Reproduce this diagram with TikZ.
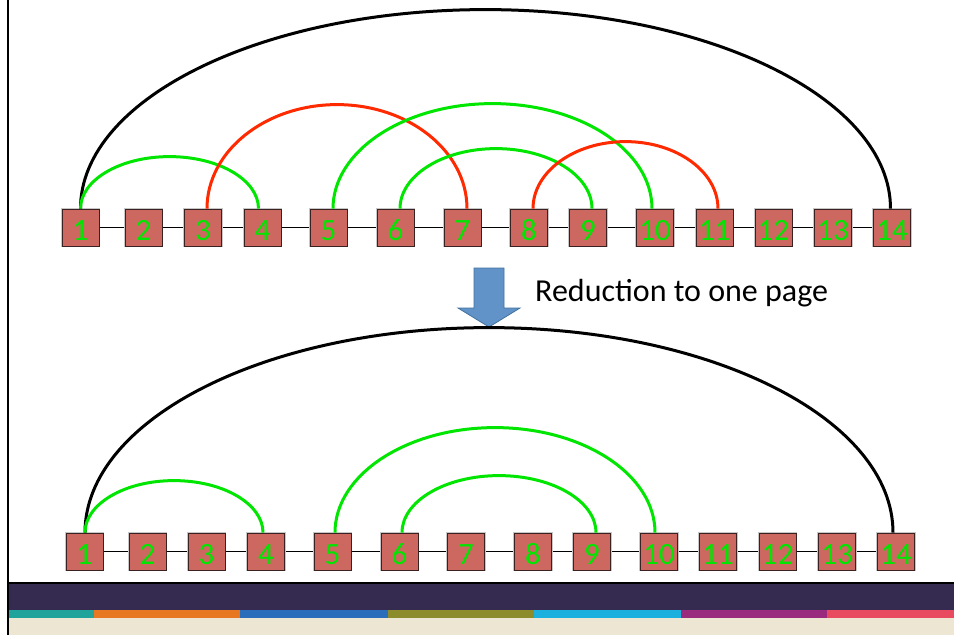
\documentclass[tikz,border=0pt]{standalone}
\usepackage{fontspec}
\setmainfont{Carlito}
\definecolor{boxfill}{HTML}{CD6861}
\definecolor{boxline}{HTML}{3A2222}
\definecolor{arcgreen}{HTML}{00E600}
\definecolor{arcred}{HTML}{FF2A00}
\definecolor{arrowblue}{HTML}{6193C8}
\definecolor{arrowline}{HTML}{41719C}
\definecolor{banddark}{HTML}{352A50}
\definecolor{cream}{HTML}{EDE6D2}
\definecolor{sTeal}{HTML}{1FA39A}
\definecolor{sOrange}{HTML}{E87722}
\definecolor{sBlue}{HTML}{2A6EBB}
\definecolor{sOlive}{HTML}{8C8C2A}
\definecolor{sCyan}{HTML}{1BB0DE}
\definecolor{sPurple}{HTML}{9A2A7E}
\definecolor{sPink}{HTML}{E84A5F}
\begin{document}
\begin{tikzpicture}[x=1pt,y=-1pt,
  vbox/.style={draw=boxline, line width=0.8pt, fill=boxfill,
    preaction={draw=black!22, line width=2.6pt},
    minimum width=37pt, minimum height=37pt, inner sep=0pt,
    text=arcgreen, font=\fontsize{31}{31}\selectfont,
    text height=25pt, text depth=0pt},
  link/.style={draw=black, line width=0.9pt},
  garc/.style={draw=arcgreen, line width=3pt},
  rarc/.style={draw=arcred, line width=3pt},
  karc/.style={draw=black, line width=3pt}]
\useasboundingbox (0,0) rectangle (954,635);
\fill[white] (0,0) rectangle (954,635);

% footer band
\fill[banddark] (8,584) rectangle (954,610);
\fill[sTeal] (8,610) rectangle (94,618);
\fill[sOrange] (94,610) rectangle (240,618);
\fill[sBlue] (240,610) rectangle (388,618);
\fill[sOlive] (388,610) rectangle (534,618);
\fill[sCyan] (534,610) rectangle (681,618);
\fill[sPurple] (681,610) rectangle (827,618);
\fill[sPink] (827,610) rectangle (954,618);
\fill[cream] (8,618) rectangle (954,635);
\draw[line width=2pt] (7.5,0) -- (7.5,635);
\draw[line width=2pt] (7.5,583) -- (954,583);

% top row
\foreach \i/\x in {1/80.5,2/143.5,3/203,4/262.5,5/328.5,6/395.5,7/462.5,8/529,9/588,10/655,11/714.5,12/773.5,13/833,14/892}
  \coordinate (tc\i) at (\x,227.5);
\foreach \i in {1,...,13}{
  \pgfmathtruncatemacro{\j}{\i+1}
  \draw[link] (tc\i) -- (tc\j);
}
\foreach \i in {1,...,14}
  \node[vbox] (t\i) at (tc\i) {\i};

\draw[karc] (t1.north) arc[start angle=180, end angle=0, x radius=405pt, y radius=199pt];
\draw[garc] (t1.north) arc[start angle=180, end angle=0, x radius=89pt, y radius=52pt];
\draw[rarc] ([xshift=4pt]t3.north) arc[start angle=180, end angle=0, x radius=130pt, y radius=104pt];
\draw[garc] ([xshift=4.5pt]t5.north) arc[start angle=180, end angle=0, x radius=159.5pt, y radius=105pt];
\draw[garc] ([xshift=4.5pt]t6.north) arc[start angle=180, end angle=0, x radius=96pt, y radius=60pt];
\draw[rarc] ([xshift=4pt]t8.north) arc[start angle=180, end angle=0, x radius=92.5pt, y radius=67pt];

% arrow and caption
\draw[fill=arrowblue, draw=arrowline, line width=0.8pt]
  (474,268) -- (504,268) -- (504,308) -- (520,308) -- (489,327) -- (458,308) -- (474,308) -- cycle;
\node[anchor=west, inner sep=0pt, font=\fontsize{32}{32}\selectfont] (cap) at (535,293) {Reduction to one page};

% bottom row
\foreach \i/\x in {1/84.5,2/147.5,3/206.5,4/266,5/332.5,6/399.5,7/466,8/533,9/592,10/659,11/718,12/777.5,13/837,14/896}
  \coordinate (bc\i) at (\x,551.5);
\foreach \i in {1,...,13}{
  \pgfmathtruncatemacro{\j}{\i+1}
  \draw[link] (bc\i) -- (bc\j);
}
\foreach \i in {1,...,14}
  \node[vbox] (b\i) at (bc\i) {\i};

\draw[karc] ([xshift=0.5pt]b1.north) arc[start angle=180, end angle=0, x radius=404pt, y radius=205pt];
\draw[garc] ([xshift=0.5pt]b1.north) arc[start angle=180, end angle=0, x radius=89pt, y radius=52pt];
\draw[garc] ([xshift=2.5pt]b5.north) arc[start angle=180, end angle=0, x radius=160pt, y radius=105pt];
\draw[garc] ([xshift=2.5pt]b6.north) arc[start angle=180, end angle=0, x radius=97pt, y radius=57pt];
\end{tikzpicture}
\end{document}
